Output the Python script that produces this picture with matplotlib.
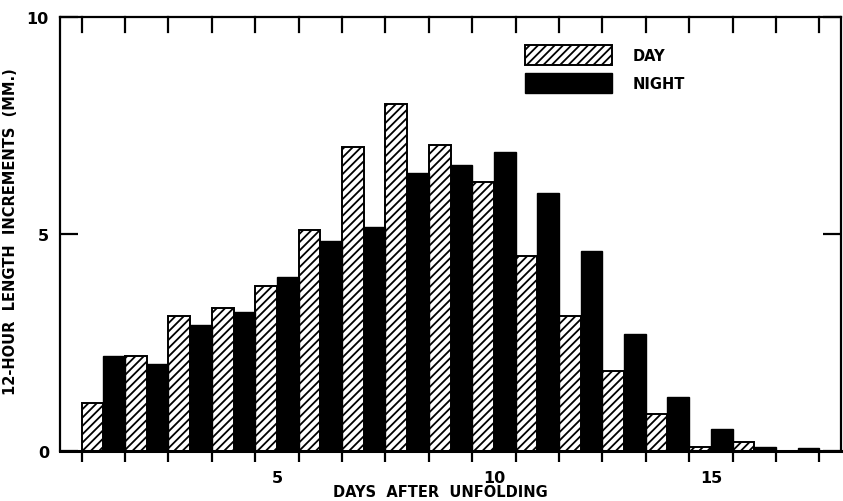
import matplotlib
matplotlib.use("Agg")
import matplotlib.pyplot as plt
import numpy as np
from matplotlib.patches import Patch

# 12-hour length increments (mm) for each day after unfolding
days = np.arange(1, 18)
day_incr = [1.1, 2.2, 3.1, 3.3, 3.8, 5.1, 7.0, 8.0, 7.05, 6.2, 4.5, 3.1, 1.85, 0.85, 0.1, 0.2, 0.0]
night_incr = [2.2, 2.0, 2.9, 3.2, 4.0, 4.85, 5.15, 6.4, 6.6, 6.9, 5.95, 4.6, 2.7, 1.25, 0.5, 0.1, 0.07]

x_labels = [5, 10, 15]
y_ticks = [0, 5, 10]

plt.rcParams["font.family"] = "DejaVu Sans"
plt.rcParams["font.weight"] = "bold"
plt.rcParams["hatch.linewidth"] = 1.3

fig = plt.figure(figsize=(8.43, 5.02), dpi=100)
ax = fig.add_axes([60 / 843, 50 / 502, 781 / 843, 434 / 502])

w = 0.5
ax.bar(days - w / 2, day_incr, w, color="white", edgecolor="black",
       hatch="////", linewidth=1.4, label="DAY")
ax.bar(days + w / 2, night_incr, w, color="black", edgecolor="black",
       linewidth=1.0, label="NIGHT")

ax.set_xlim(0, 18)
ax.set_ylim(0, 10)

# day boundaries get tick marks, day centres get the numbers
bounds = np.arange(0.5, 18, 1.0)
ax.set_xticks(bounds, minor=True)
ax.set_xticks(x_labels)
ax.set_xticklabels([str(v) for v in x_labels], fontsize=11.5, fontweight="bold")
ax.tick_params(axis="x", which="major", length=0, pad=14)
ax.tick_params(axis="x", which="minor", direction="out", length=8, width=1.6)

ax.set_yticks(y_ticks)
ax.set_yticklabels([str(v) for v in y_ticks], fontsize=11.5, fontweight="bold")
ax.tick_params(axis="y", direction="in", length=13, width=1.6, pad=8,
               right=True)

# inward tick marks along the top edge
for b in bounds:
    ax.plot([b, b], [10, 9.66], color="black", lw=1.6, clip_on=False)

for s in ax.spines.values():
    s.set_linewidth(1.6)
ax.spines["bottom"].set_linewidth(2.2)

ax.set_xlabel("DAYS  AFTER  UNFOLDING", fontsize=10.5, fontweight="bold")
ax.xaxis.set_label_coords(0.487, -0.076)
ax.set_ylabel("12-HOUR  LENGTH  INCREMENTS  (MM.)", fontsize=10.5, fontweight="bold")
ax.yaxis.set_label_coords(-0.054, 0.507)

handles = [
    Patch(facecolor="white", edgecolor="black", hatch="////", linewidth=1.4, label="DAY"),
    Patch(facecolor="black", edgecolor="black", label="NIGHT"),
]
ax.legend(handles=handles, loc="upper left", bbox_to_anchor=(0.595, 0.935),
          frameon=False, fontsize=10.5, handlelength=6.0, handleheight=1.7,
          handletextpad=1.4, labelspacing=0.55, borderpad=0, borderaxespad=0)

fig.savefig("out.png", dpi=100)
